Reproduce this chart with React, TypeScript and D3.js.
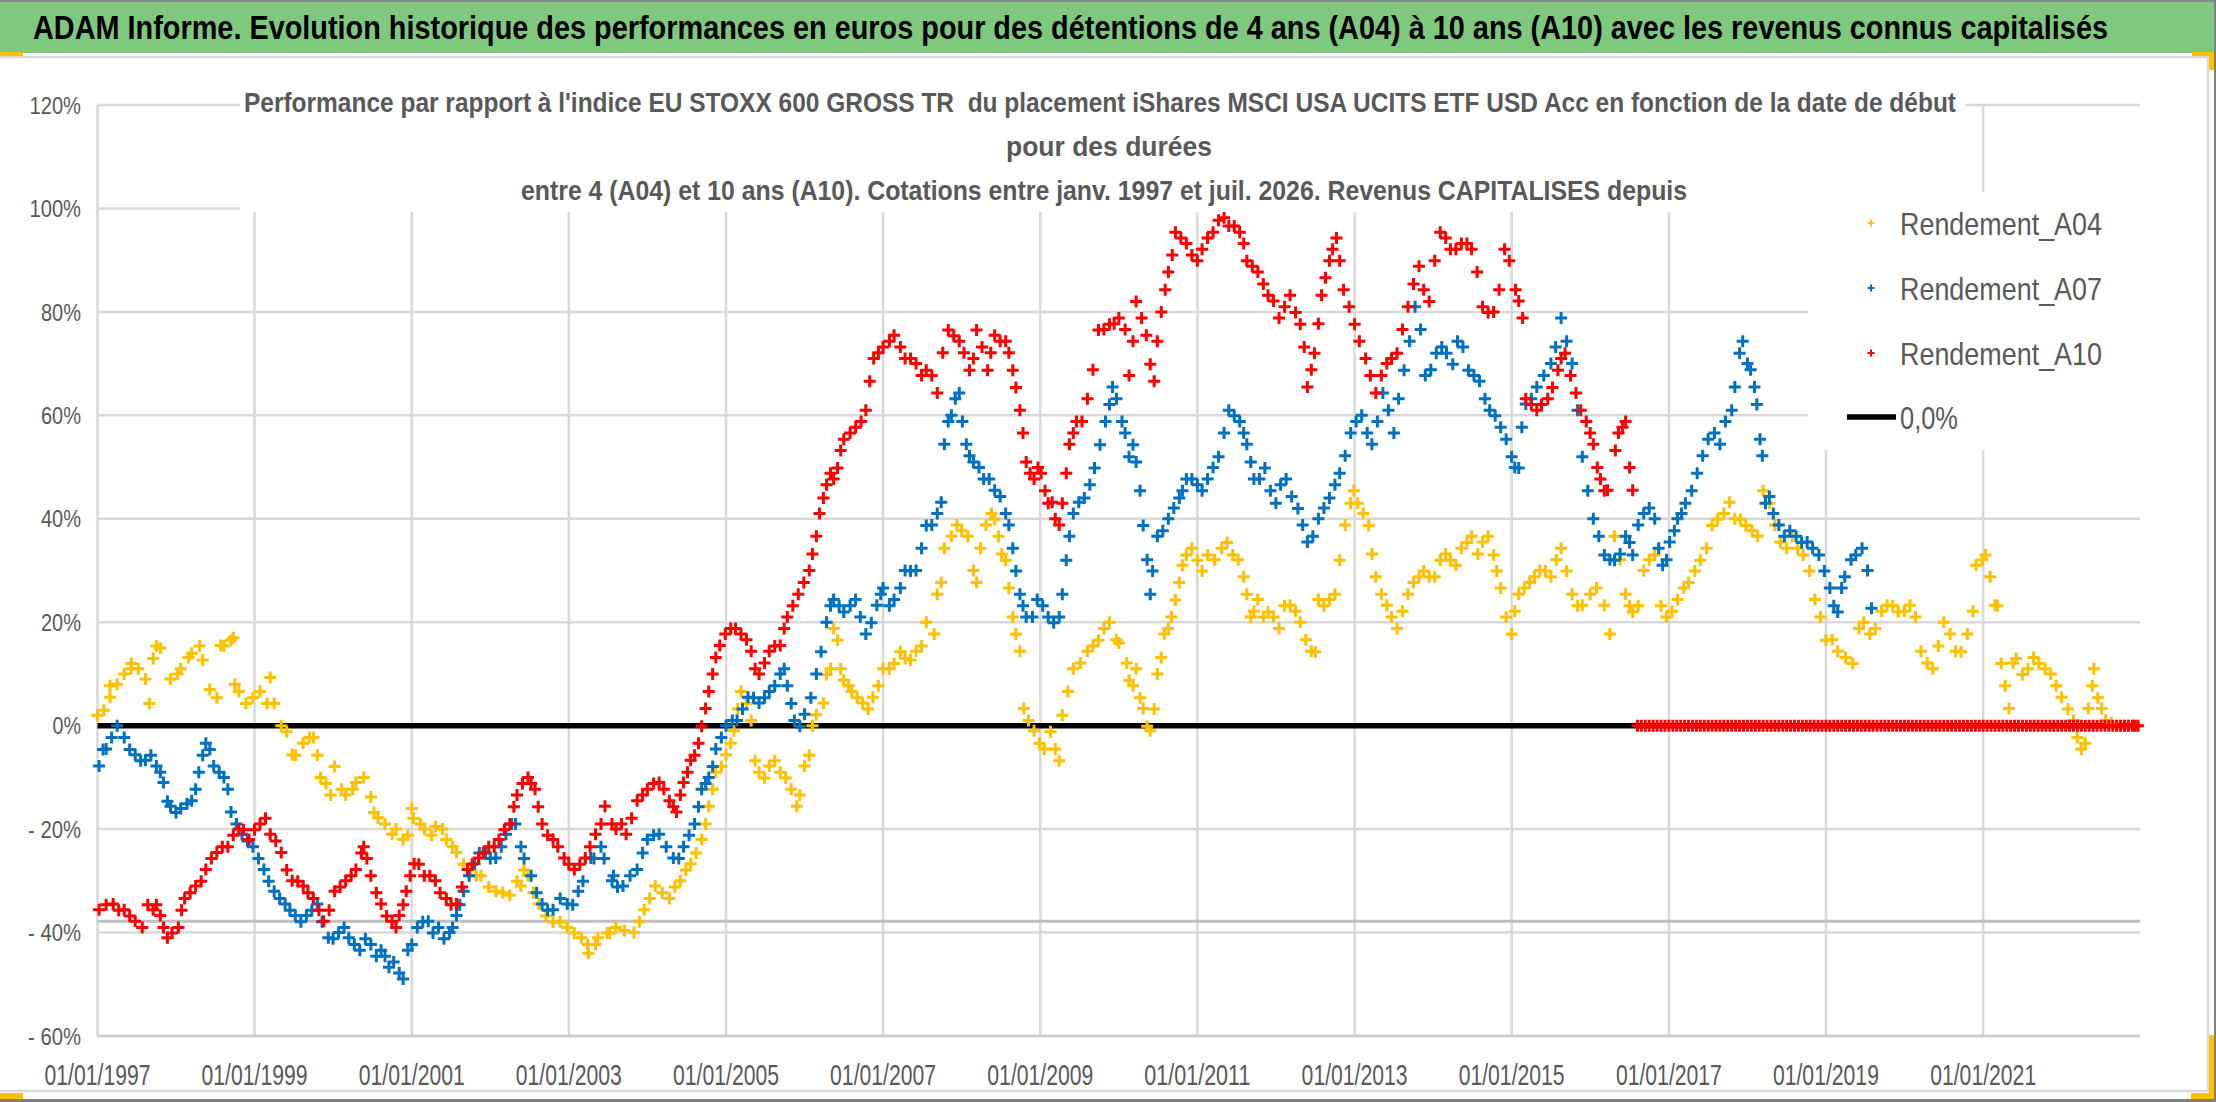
import { useEffect, useRef } from 'react'
import * as d3 from 'd3'

const W = 2216
const H = 1102

const headerTitle =
  'ADAM Informe. Evolution historique des performances en euros pour des détentions de 4 ans (A04) à 10 ans (A10) avec les revenus connus capitalisés'

const chartTitle = [
  "Performance par rapport à l'indice EU STOXX 600 GROSS TR  du placement iShares MSCI USA UCITS ETF USD Acc en fonction de la date de début",
  'pour des durées',
  'entre 4 (A04) et 10 ans (A10). Cotations entre janv. 1997 et juil. 2026. Revenus CAPITALISES depuis',
]

const xTickLabels = [
  '01/01/1997', '01/01/1999', '01/01/2001', '01/01/2003', '01/01/2005', '01/01/2007', '01/01/2009',
  '01/01/2011', '01/01/2013', '01/01/2015', '01/01/2017', '01/01/2019', '01/01/2021',
]
const yTicks = [120, 100, 80, 60, 40, 20, 0, -20, -40, -60]
const refLevel = -37.8

const seriesNames = ['Rendement_A04', 'Rendement_A07', 'Rendement_A10']
const seriesColors = ['#FFC000', '#0070C0', '#FF0000']

// [start date as decimal year, performance %]
const a04: [number, number][] = [
  [1997.0, 2], [1997.08, 3], [1997.16, 5.5], [1997.25, 8], [1997.34, 10], [1997.43, 12], [1997.52, 11],
  [1997.61, 9], [1997.71, 13], [1997.8, 15], [1997.93, 9], [1998.06, 11], [1998.2, 14], [1998.34, 12.7],
  [1998.43, 7], [1998.57, 15.5], [1998.7, 16.5], [1998.75, 8], [1998.89, 4.3], [1999.07, 6.6], [1999.25, 4.3],
  [1999.34, 0], [1999.48, -5.6], [1999.62, -3.4], [1999.75, -2.3], [1999.84, -10], [1999.97, -13.4],
  [2000.16, -13.4], [2000.29, -11], [2000.48, -13.8], [2000.57, -17.8], [2000.75, -21], [2000.89, -22],
  [2001.0, -16], [2001.16, -20], [2001.3, -19.5], [2001.44, -22], [2001.57, -24.5], [2001.75, -27.8],
  [2001.88, -29], [2002.07, -32], [2002.25, -32.8], [2002.39, -31], [2002.48, -29], [2002.62, -34.5],
  [2002.8, -38], [2002.98, -39], [2003.16, -41], [2003.25, -44], [2003.37, -41], [2003.6, -39], [2003.83, -40],
  [2003.96, -35.6], [2004.1, -31], [2004.28, -33.4], [2004.42, -30], [2004.55, -26.7], [2004.69, -22],
  [2004.78, -15.6], [2004.87, -9], [2005.0, -5.6], [2005.1, -1], [2005.19, 6.6], [2005.32, 1], [2005.42, -9],
  [2005.55, -7.8], [2005.69, -9], [2005.83, -12.3], [2005.9, -15.6], [2006.0, -7.8], [2006.1, 0], [2006.24, 4.4],
  [2006.33, 11], [2006.42, 16.5], [2006.5, 8.8], [2006.6, 6.6], [2006.74, 4.4], [2006.87, 5.5], [2007.0, 11],
  [2007.14, 12], [2007.28, 13], [2007.42, 14.4], [2007.55, 20], [2007.65, 17.7], [2007.74, 27.7],
  [2007.87, 36.6], [2008.0, 37.7], [2008.15, 30], [2008.24, 34.3], [2008.38, 41], [2008.47, 36.6],
  [2008.56, 32], [2008.65, 21], [2008.74, 14.4], [2008.79, 3.3], [2008.92, -1], [2009.05, -4.5],
  [2009.19, -4.5], [2009.28, 2], [2009.42, 11], [2009.6, 14.4], [2009.74, 16.5], [2009.88, 20], [2010.0, 16],
  [2010.13, 8.8], [2010.22, 11], [2010.31, 3.3], [2010.4, -1], [2010.49, 10], [2010.58, 17.7], [2010.67, 21],
  [2010.77, 27.7], [2010.86, 33], [2011.0, 32], [2011.13, 33], [2011.31, 34.3], [2011.45, 33], [2011.59, 28.8],
  [2011.68, 21], [2011.77, 24.4], [2011.9, 22], [2012.04, 18.8], [2012.18, 23.3], [2012.31, 20],
  [2012.45, 14.4], [2012.54, 24.4], [2012.68, 24.4], [2012.81, 32], [2012.95, 43], [2013.04, 43],
  [2013.18, 38.7], [2013.27, 28.8], [2013.41, 23.3], [2013.54, 18.8], [2013.68, 25.4], [2013.82, 28.8],
  [2013.95, 28.8], [2014.09, 32], [2014.22, 32], [2014.36, 34.3], [2014.49, 36.6], [2014.63, 35.5],
  [2014.77, 33], [2014.86, 26.6], [2015.0, 17.7], [2015.09, 25.4], [2015.23, 27.7], [2015.36, 30],
  [2015.5, 28.8], [2015.63, 34.3], [2015.77, 25.4], [2015.9, 23.3], [2016.08, 26.6], [2016.18, 23.3],
  [2016.31, 36.6], [2016.45, 25.4], [2016.54, 22], [2016.68, 30], [2016.82, 33], [2016.97, 21],
  [2017.11, 24.4], [2017.25, 27.7], [2017.4, 32], [2017.55, 38.7], [2017.7, 41], [2017.84, 40],
  [2017.98, 38.7], [2018.13, 36.6], [2018.28, 43], [2018.42, 35.5], [2018.57, 36.6], [2018.71, 33],
  [2018.86, 24.4], [2019.0, 16.5], [2019.15, 14.4], [2019.34, 12], [2019.48, 20], [2019.63, 18.8],
  [2019.78, 23.3], [2019.92, 22], [2020.07, 23.3], [2020.21, 14.4], [2020.36, 11], [2020.5, 20],
  [2020.65, 14.4], [2020.8, 17.7], [2020.91, 31], [2021.03, 33], [2021.15, 23.3], [2021.23, 12],
  [2021.33, 3.3], [2021.42, 13], [2021.57, 11], [2021.71, 12], [2021.86, 10], [2022.0, 5.5], [2022.15, 1],
  [2022.25, -4.5], [2022.34, 3.3], [2022.41, 11], [2022.51, 3.3], [2022.63, 0.5], [2022.7, 0], [2022.8, 0],
  [2022.9, 0], [2022.97, 0],
]

// second pass of readings, between the first ones
const a04Extra: [number, number][] = [
  [1997.16, 7.7], [1997.43, 11], [1997.66, 4.3], [1997.75, 15.4], [1998.02, 10], [1998.16, 13.2],
  [1998.3, 15.4], [1998.52, 5.4], [1998.61, 15.4], [1998.73, 17], [1998.8, 6.6], [1998.98, 5.4],
  [1999.16, 4.3], [1999.2, 9.3], [1999.41, -1.2], [1999.52, -5.7], [1999.7, -2.3], [1999.8, -5.7],
  [1999.91, -11.2], [2000.02, -7.9], [2000.11, -12.3], [2000.25, -12.3], [2000.39, -10], [2000.52, -16.8],
  [2000.66, -19], [2000.8, -20], [2000.95, -21.2], [2001.02, -17.9], [2001.11, -19], [2001.25, -21.2],
  [2001.39, -20], [2001.52, -23.4], [2001.66, -26.8], [2001.82, -29], [2001.98, -31.2], [2002.16, -32.3],
  [2002.34, -30.1], [2002.43, -27.9], [2002.55, -32.3], [2002.71, -36.8], [2002.89, -37.9], [2003.07, -40.1],
  [2003.34, -42.3], [2003.52, -40.1], [2003.24, -42.3], [2003.49, -40.1], [2003.71, -39.6], [2003.9, -37.9],
  [2004.03, -33.4], [2004.19, -32.3], [2004.35, -31.2], [2004.49, -27.9], [2004.62, -24.6], [2004.74, -19],
  [2004.83, -12.3], [2004.94, -7.9], [2005.06, -3.4], [2005.15, 3.2], [2005.26, 4.3], [2005.37, -6.8],
  [2005.49, -10.1], [2005.62, -6.8], [2005.76, -10.1], [2005.94, -13.4], [2006.06, -5.7], [2006.15, 2.1],
  [2006.28, 9.9], [2006.37, 18.8], [2006.46, 11], [2006.56, 7.7], [2006.67, 5.4], [2006.81, 3.2],
  [2006.94, 7.7], [2007.08, 11], [2007.22, 14.3], [2007.35, 12.7], [2007.49, 15.4], [2007.69, 25.4],
  [2007.78, 34.3], [2007.94, 38.8], [2008.08, 36.6], [2008.19, 27.7], [2008.31, 38.8], [2008.42, 39.9],
  [2008.51, 33.2], [2008.6, 26.6], [2008.69, 17.7], [2008.85, 1], [2008.99, -3.4], [2009.13, -1.2],
  [2009.24, -6.8], [2009.35, 6.6], [2009.51, 12.1], [2009.67, 15.4], [2009.81, 18.8], [2009.97, 16.6],
  [2010.1, 12.1], [2010.18, 7.7], [2010.27, 5.4], [2010.36, -0.1], [2010.45, 3.2], [2010.54, 13.2],
  [2010.63, 18.8], [2010.72, 24.3], [2010.81, 31], [2010.93, 34.3], [2011.06, 29.9], [2011.22, 32.1],
  [2011.38, 35.4], [2011.52, 32.1], [2011.63, 25.4], [2011.72, 22.1], [2011.84, 21], [2011.97, 21],
  [2012.11, 23.2], [2012.25, 22.1], [2012.38, 16.6], [2012.5, 14.3], [2012.61, 23.2], [2012.75, 25.4],
  [2012.88, 38.8], [2012.99, 45.4], [2013.11, 41], [2013.22, 33.2], [2013.34, 25.4], [2013.47, 21],
  [2013.61, 22.1], [2013.75, 27.7], [2013.88, 29.9], [2014.02, 28.8], [2014.16, 33.2], [2014.29, 31],
  [2014.43, 35.4], [2014.57, 33.2], [2014.7, 36.6], [2014.81, 29.9], [2014.93, 21], [2015.04, 22.1],
  [2015.16, 26.6], [2015.29, 28.8], [2015.43, 29.9], [2015.57, 32.1], [2015.7, 29.9], [2015.84, 23.2],
  [2016.0, 25.4], [2016.25, 17.7], [2016.38, 32.1], [2016.5, 23.2], [2016.61, 23.2], [2016.75, 32.1],
  [2016.9, 23.2], [2017.04, 22.1], [2017.19, 26.6], [2017.33, 29.9], [2017.48, 34.3], [2017.62, 39.9],
  [2017.77, 43.2], [2017.91, 39.9], [2018.06, 37.7], [2018.2, 45.4], [2018.35, 38.8], [2018.5, 34.3],
  [2018.64, 34.3], [2018.79, 29.9], [2018.93, 21], [2019.08, 16.6], [2019.25, 13.2], [2019.42, 18.8],
  [2019.56, 17.7], [2019.71, 22.1], [2019.85, 23.2], [2020.0, 22.1], [2020.14, 21], [2020.29, 12.1],
  [2020.43, 15.4], [2020.58, 17.7], [2020.72, 14.3], [2020.87, 22.1], [2020.99, 32.1], [2021.09, 28.8],
  [2021.18, 23.2], [2021.28, 7.7], [2021.38, 12.1], [2021.5, 9.9], [2021.64, 13.2], [2021.79, 11],
  [2021.93, 7.7], [2022.08, 3.2], [2022.2, -2.3], [2022.3, -3.4], [2022.39, 7.7], [2022.46, 5.4],
  [2022.56, 1], [2022.75, 0], [2022.85, 0], [2022.93, 0],
]

const a07: [number, number][] = [
  [1997.02, -7.8], [1997.11, -4.5], [1997.25, 0], [1997.34, -2.3], [1997.48, -5.6], [1997.61, -6.7],
  [1997.75, -7.8], [1997.84, -11], [1997.93, -15.6], [1998.06, -16], [1998.2, -14.5], [1998.29, -9],
  [1998.38, -3.4], [1998.48, -7.8], [1998.61, -10], [1998.7, -16.7], [1998.84, -21], [1998.98, -23.4],
  [1999.12, -27.8], [1999.25, -32], [1999.39, -34.5], [1999.52, -36.7], [1999.66, -36.7], [1999.8, -34.5],
  [1999.94, -41], [2000.07, -40], [2000.2, -41], [2000.34, -43.4], [2000.48, -42.3], [2000.61, -43.4],
  [2000.71, -46.7], [2000.84, -47.8], [2000.95, -43.4], [2001.07, -39], [2001.21, -37.8], [2001.34, -39],
  [2001.48, -40], [2001.57, -36.7], [2001.66, -32], [2001.8, -26.7], [2001.94, -24.5], [2002.07, -25.6],
  [2002.2, -21], [2002.32, -19], [2002.39, -23.4], [2002.52, -29], [2002.66, -34.5], [2002.8, -35.6],
  [2002.98, -34.5], [2003.12, -32], [2003.28, -25.6], [2003.41, -23.4], [2003.55, -30], [2003.69, -31],
  [2003.87, -27.8], [2004.0, -22], [2004.15, -21], [2004.33, -25.6], [2004.46, -23.4], [2004.6, -19],
  [2004.69, -12.3], [2004.78, -10], [2004.87, -4.5], [2005.0, 0], [2005.14, 1], [2005.28, 5.5],
  [2005.42, 4.4], [2005.55, 6.6], [2005.69, 10], [2005.78, 7.7], [2005.87, 1], [2006.0, 2.2], [2006.15, 10],
  [2006.28, 20], [2006.37, 24.4], [2006.5, 22], [2006.65, 24.4], [2006.78, 17.7], [2006.92, 23.3],
  [2007.0, 26.6], [2007.14, 24.4], [2007.28, 30], [2007.42, 30], [2007.55, 38.7], [2007.69, 41],
  [2007.78, 54.4], [2007.87, 60], [2007.97, 64.3], [2008.06, 54.4], [2008.15, 51], [2008.28, 47.7],
  [2008.42, 45.5], [2008.56, 41], [2008.65, 34.3], [2008.74, 25.4], [2008.82, 21], [2008.96, 24.4],
  [2009.1, 21], [2009.24, 21], [2009.33, 32], [2009.42, 41], [2009.56, 44], [2009.69, 49.8], [2009.83, 58.8],
  [2009.92, 65.5], [2010.04, 58.8], [2010.13, 52], [2010.22, 51], [2010.31, 38.7], [2010.4, 25.4],
  [2010.49, 36.6], [2010.63, 40], [2010.77, 44], [2010.86, 47.7], [2011.0, 46.6], [2011.13, 47.7],
  [2011.27, 52], [2011.4, 61], [2011.54, 58.8], [2011.63, 54.4], [2011.72, 47.7], [2011.86, 49.8],
  [2012.0, 43], [2012.13, 47.7], [2012.28, 42], [2012.4, 35.5], [2012.54, 40], [2012.68, 44], [2012.81, 48.8],
  [2012.95, 56.6], [2013.09, 60], [2013.22, 54.4], [2013.36, 64.3], [2013.5, 56.6], [2013.63, 68.7],
  [2013.77, 81], [2013.9, 67.7], [2014.04, 72], [2014.17, 72], [2014.31, 74.3], [2014.45, 68.7],
  [2014.59, 66.6], [2014.72, 61], [2014.86, 57.7], [2015.0, 52], [2015.09, 49.8], [2015.18, 62.2],
  [2015.32, 65.5], [2015.5, 70], [2015.63, 78.8], [2015.77, 70], [2015.9, 52], [2016.04, 40], [2016.18, 33],
  [2016.31, 32], [2016.45, 36.6], [2016.54, 33], [2016.68, 41], [2016.82, 40], [2016.92, 31], [2017.01, 35.5],
  [2017.11, 40], [2017.21, 43], [2017.36, 48.8], [2017.5, 55.4], [2017.65, 54.4], [2017.8, 61], [2017.9, 72],
  [2018.0, 70], [2018.09, 65.5], [2018.16, 55.4], [2018.23, 43], [2018.33, 41], [2018.47, 36.6],
  [2018.62, 36.6], [2018.76, 35.5], [2018.91, 33], [2019.05, 26.6], [2019.15, 22], [2019.24, 28.8],
  [2019.38, 33], [2019.53, 30], [2019.58, 22.7],
]

const a07Extra: [number, number][] = [
  [1997.07, -4.6], [1997.18, -2.3], [1997.41, -4.6], [1997.55, -6.8], [1997.68, -5.7], [1997.8, -9],
  [1997.89, -14.6], [1998.0, -16.8], [1998.14, -15.1], [1998.25, -12.3], [1998.34, -5.7], [1998.43, -4.6],
  [1998.55, -9], [1998.66, -12.3], [1998.77, -19], [1998.91, -22.3], [1999.05, -25.7], [1999.18, -30.1],
  [1999.32, -33.4], [1999.45, -35.7], [1999.59, -37.9], [1999.73, -35.7], [1999.86, -37.9], [2000.0, -41.2],
  [2000.14, -39], [2000.27, -42.3], [2000.41, -41.2], [2000.55, -44.6], [2000.66, -44.6], [2000.77, -45.7],
  [2000.89, -49], [2001.0, -42.3], [2001.14, -37.9], [2001.27, -40.1], [2001.41, -41.2], [2001.52, -39],
  [2001.61, -34.6], [2001.73, -29], [2001.86, -24.6], [2002.0, -25.7], [2002.14, -23.4], [2002.27, -19],
  [2002.43, -25.7], [2002.59, -32.3], [2002.73, -35.7], [2002.89, -33.4], [2003.05, -34.6], [2003.18, -30.1],
  [2003.32, -25.7], [2003.45, -25.7], [2003.57, -29], [2003.62, -31.2], [2003.78, -29], [2003.94, -24.6],
  [2004.08, -21.2], [2004.24, -23.4], [2004.4, -25.7], [2004.53, -21.2], [2004.65, -15.7], [2004.74, -11.2],
  [2004.83, -7.9], [2004.94, -2.3], [2005.08, 1], [2005.21, 3.2], [2005.35, 5.4], [2005.49, 5.4],
  [2005.62, 7.7], [2005.74, 11], [2005.83, 4.3], [2005.94, -0.1], [2006.08, 5.4], [2006.21, 14.3],
  [2006.33, 23.2], [2006.44, 23.2], [2006.58, 23.2], [2006.71, 21], [2006.85, 19.9], [2006.97, 25.4],
  [2007.08, 23.2], [2007.22, 26.6], [2007.35, 29.9], [2007.49, 34.3], [2007.62, 38.8], [2007.74, 43.2],
  [2007.83, 58.8], [2007.92, 63.2], [2008.01, 58.8], [2008.1, 52.2], [2008.22, 49.9], [2008.35, 47.7],
  [2008.49, 44.3], [2008.6, 38.8], [2008.69, 29.9], [2008.78, 23.2], [2008.9, 21], [2009.03, 23.2],
  [2009.17, 19.9], [2009.28, 25.4], [2009.37, 36.6], [2009.49, 43.2], [2009.63, 46.6], [2009.76, 54.3],
  [2009.88, 62.1], [2009.97, 63.2], [2010.08, 56.6], [2010.18, 54.3], [2010.27, 45.4], [2010.36, 32.1],
  [2010.43, 29.9], [2010.56, 37.7], [2010.7, 42.1], [2010.81, 45.4], [2010.93, 47.7], [2011.06, 45.4],
  [2011.2, 49.9], [2011.34, 56.6], [2011.47, 59.9], [2011.59, 56.6], [2011.68, 51], [2011.79, 47.7],
  [2011.93, 45.4], [2012.06, 46.6], [2012.2, 44.3], [2012.34, 38.8], [2012.47, 36.6], [2012.61, 42.1],
  [2012.75, 46.6], [2012.88, 52.2], [2013.02, 58.8], [2013.16, 56.6], [2013.29, 58.8], [2013.43, 61],
  [2013.56, 63.2], [2013.7, 74.3], [2013.84, 76.6], [2013.97, 68.8], [2014.11, 73.2], [2014.25, 69.9],
  [2014.38, 73.2], [2014.52, 67.7], [2014.66, 63.2], [2014.79, 59.9], [2014.93, 55.4], [2015.04, 49.9],
  [2015.13, 57.7], [2015.25, 63.2], [2015.41, 67.7], [2015.56, 73.2], [2015.7, 74.3], [2015.84, 61],
  [2015.97, 45.4], [2016.11, 36.6], [2016.25, 32.1], [2016.38, 33.2], [2016.5, 35.4], [2016.61, 38.8],
  [2016.75, 42.1], [2016.87, 34.3], [2016.97, 32.1], [2017.07, 37.7], [2017.16, 41], [2017.29, 45.4],
  [2017.43, 52.2], [2017.58, 56.6], [2017.72, 58.8], [2017.84, 65.5], [2017.94, 74.3], [2018.04, 68.8],
  [2018.12, 62.1], [2018.19, 52.2], [2018.28, 44.3], [2018.4, 38.8], [2018.54, 37.7], [2018.69, 35.4],
  [2018.83, 34.3], [2018.98, 29.9], [2019.1, 23.2], [2019.2, 26.6], [2019.32, 32.1], [2019.46, 34.3],
]

const a10: [number, number][] = [
  [1997.02, -35.6], [1997.2, -34.5], [1997.34, -35.6], [1997.48, -37.8], [1997.57, -39], [1997.71, -35.6],
  [1997.8, -36.7], [1997.89, -41], [1998.03, -39], [1998.11, -33.4], [1998.25, -31], [1998.38, -27.8],
  [1998.52, -24.5], [1998.66, -23.4], [1998.8, -20], [1998.93, -22], [1999.07, -19], [1999.2, -21],
  [1999.34, -24.5], [1999.48, -30], [1999.62, -31], [1999.75, -33.4], [1999.88, -37.8], [2000.02, -32],
  [2000.16, -30], [2000.29, -27.8], [2000.39, -23.4], [2000.48, -29], [2000.61, -34.5], [2000.75, -37.8],
  [2000.84, -36.7], [2000.93, -32], [2001.03, -26.7], [2001.16, -29], [2001.3, -30], [2001.44, -33.4],
  [2001.57, -34.5], [2001.71, -27.8], [2001.85, -25.6], [2001.98, -23.4], [2002.11, -22], [2002.25, -19],
  [2002.34, -13.4], [2002.48, -10], [2002.57, -12.3], [2002.66, -19], [2002.8, -22], [2002.94, -25.6],
  [2003.07, -27.8], [2003.21, -25.6], [2003.34, -21], [2003.46, -15.6], [2003.6, -20], [2003.73, -21],
  [2003.87, -14.5], [2004.0, -12.3], [2004.15, -11], [2004.28, -14.5], [2004.37, -16.7], [2004.46, -11],
  [2004.55, -6.7], [2004.65, -3.4], [2004.74, 3.3], [2004.83, 10], [2004.92, 15.5], [2005.06, 18.8],
  [2005.19, 17.7], [2005.32, 14.4], [2005.42, 10], [2005.55, 14.4], [2005.69, 15.5], [2005.78, 21],
  [2005.92, 25.4], [2006.06, 30], [2006.15, 36.6], [2006.24, 44], [2006.33, 48.8], [2006.42, 49.8],
  [2006.5, 55.4], [2006.65, 57.7], [2006.78, 61], [2006.88, 71], [2007.0, 73.2], [2007.14, 75.5],
  [2007.28, 71], [2007.42, 70], [2007.55, 68.7], [2007.69, 64.3], [2007.83, 76.5], [2007.97, 74.3],
  [2008.1, 68.7], [2008.19, 76.5], [2008.33, 68.7], [2008.42, 75.5], [2008.56, 74.3], [2008.65, 68.7],
  [2008.74, 61], [2008.82, 51], [2008.92, 47.7], [2009.01, 48.8], [2009.1, 43], [2009.19, 40], [2009.28, 43],
  [2009.37, 54.4], [2009.46, 58.8], [2009.6, 63.2], [2009.74, 76.5], [2009.88, 77.6], [2010.0, 78.8],
  [2010.13, 67.7], [2010.22, 82], [2010.35, 75.5], [2010.45, 66.6], [2010.54, 80], [2010.63, 87.7],
  [2010.72, 95.4], [2010.86, 93.2], [2011.0, 89.9], [2011.13, 94.3], [2011.27, 97.7], [2011.4, 96.6],
  [2011.54, 95.4], [2011.63, 89.9], [2011.77, 87.7], [2011.9, 83.2], [2012.04, 78.8], [2012.18, 83.2],
  [2012.31, 77.6], [2012.4, 65.5], [2012.49, 72], [2012.58, 83.2], [2012.68, 89.9], [2012.77, 94.3],
  [2012.86, 84.3], [2013.0, 77.6], [2013.14, 71], [2013.27, 64.3], [2013.41, 70], [2013.54, 72],
  [2013.68, 81], [2013.82, 88.8], [2013.95, 82], [2014.09, 95.4], [2014.22, 92.1], [2014.36, 93.2],
  [2014.49, 92.1], [2014.63, 81], [2014.77, 80], [2014.91, 92.1], [2015.05, 84.3], [2015.14, 78.8],
  [2015.18, 63.2], [2015.32, 61], [2015.46, 63.2], [2015.59, 68.7], [2015.68, 72], [2015.82, 64.3],
  [2015.95, 58.8], [2016.04, 54.4], [2016.13, 47.7], [2016.22, 45.5], [2016.36, 56.6], [2016.45, 58.8],
  [2016.54, 45.5],
  [2016.6, 0], [2016.7, 0], [2016.8, 0], [2016.9, 0], [2017.0, 0], [2017.1, 0], [2017.2, 0], [2017.3, 0],
  [2017.4, 0], [2017.5, 0], [2017.6, 0], [2017.7, 0], [2017.8, 0], [2017.9, 0], [2018.0, 0], [2018.1, 0],
  [2018.2, 0], [2018.3, 0], [2018.4, 0], [2018.5, 0], [2018.6, 0], [2018.7, 0], [2018.8, 0], [2018.9, 0],
  [2019.0, 0], [2019.1, 0], [2019.2, 0], [2019.3, 0], [2019.4, 0], [2019.5, 0], [2019.6, 0], [2019.7, 0],
  [2019.8, 0], [2019.9, 0], [2020.0, 0], [2020.1, 0], [2020.2, 0], [2020.3, 0], [2020.4, 0], [2020.5, 0],
  [2020.6, 0], [2020.7, 0], [2020.8, 0], [2020.9, 0], [2021.0, 0], [2021.1, 0], [2021.2, 0], [2021.3, 0],
  [2021.4, 0], [2021.5, 0], [2021.6, 0], [2021.7, 0], [2021.8, 0], [2021.9, 0], [2022.0, 0], [2022.1, 0],
  [2022.2, 0], [2022.3, 0], [2022.4, 0], [2022.5, 0], [2022.6, 0], [2022.7, 0], [2022.8, 0], [2022.9, 0],
  [2022.97, 0],
]

const a10Extra: [number, number][] = [
  [1997.11, -34.6], [1997.27, -35.7], [1997.41, -36.8], [1997.64, -34.6], [1997.75, -34.6], [1997.84, -39],
  [1997.95, -40.1], [1998.07, -35.7], [1998.18, -32.3], [1998.32, -30.1], [1998.45, -25.7], [1998.59, -23.4],
  [1998.73, -21.2], [1998.86, -20.1], [1999.0, -20.1], [1999.14, -17.9], [1999.27, -22.3], [1999.41, -27.9],
  [1999.55, -30.1], [1999.68, -32.3], [1999.82, -35.7], [1999.95, -35.7], [2000.09, -31.2], [2000.23, -29],
  [2000.36, -24.6], [2000.43, -25.7], [2000.55, -32.3], [2000.68, -36.8], [2000.8, -39], [2000.89, -34.6],
  [2000.98, -29], [2001.09, -26.8], [2001.23, -29], [2001.36, -32.3], [2001.5, -34.6], [2001.64, -31.2],
  [2001.77, -26.8], [2001.91, -24.6], [2002.05, -23.4], [2002.18, -20.1], [2002.3, -15.7], [2002.41, -11.2],
  [2002.52, -11.2], [2002.61, -15.7], [2002.73, -21.2], [2002.86, -23.4], [2003.0, -26.8], [2003.14, -26.8],
  [2003.27, -23.4], [2003.41, -19], [2003.55, -19], [2003.67, -19], [2003.8, -17.9], [2003.94, -13.4],
  [2004.08, -11.2], [2004.21, -12.3], [2004.33, -15.7], [2004.42, -13.4], [2004.51, -9], [2004.6, -5.7],
  [2004.69, -0.1], [2004.78, 6.6], [2004.87, 13.2], [2004.99, 17.7], [2005.12, 18.8], [2005.26, 16.6],
  [2005.37, 11], [2005.49, 12.1], [2005.62, 15.4], [2005.74, 18.8], [2005.85, 23.2], [2005.99, 27.7],
  [2006.1, 33.2], [2006.19, 41], [2006.28, 46.6], [2006.37, 47.7], [2006.46, 53.2], [2006.58, 56.6],
  [2006.72, 58.8], [2006.83, 66.6], [2006.94, 72.1], [2007.08, 74.3], [2007.22, 73.2], [2007.35, 71],
  [2007.49, 67.7], [2007.62, 67.7], [2007.76, 72.1], [2007.9, 75.4], [2008.03, 72.1], [2008.15, 71],
  [2008.26, 73.2], [2008.37, 72.1], [2008.49, 74.3], [2008.6, 72.1], [2008.69, 65.4], [2008.78, 56.6],
  [2008.87, 48.8], [2008.97, 49.9], [2009.06, 45.4], [2009.15, 43.2], [2009.24, 38.8], [2009.33, 48.8],
  [2009.42, 56.6], [2009.53, 58.8], [2009.67, 68.8], [2009.81, 76.6], [2009.94, 77.7], [2010.08, 76.6],
  [2010.18, 74.3], [2010.29, 78.8], [2010.4, 69.9], [2010.49, 74.3], [2010.59, 84.3], [2010.68, 91],
  [2010.79, 94.3], [2010.93, 91], [2011.06, 92.1], [2011.2, 95.4], [2011.34, 98.2], [2011.47, 96.6],
  [2011.59, 93.2], [2011.7, 88.8], [2011.84, 85.4], [2011.97, 82.1], [2012.11, 81], [2012.25, 79.9],
  [2012.36, 73.2], [2012.45, 68.8], [2012.54, 77.7], [2012.63, 86.6], [2012.72, 92.1], [2012.81, 89.9],
  [2012.93, 81], [2013.06, 74.3], [2013.2, 67.7], [2013.34, 67.7], [2013.47, 71], [2013.61, 76.6],
  [2013.75, 85.4], [2013.88, 84.3], [2014.02, 89.9], [2014.16, 94.3], [2014.29, 92.1], [2014.43, 93.2],
  [2014.56, 87.7], [2014.7, 79.9], [2014.84, 84.3], [2014.97, 89.9], [2015.09, 82.1], [2015.25, 62.1],
  [2015.38, 62.1], [2015.52, 65.4], [2015.63, 71], [2015.75, 67.7], [2015.88, 61], [2016.0, 56.6],
  [2016.09, 49.9], [2016.18, 45.4], [2016.32, 53.2], [2016.41, 57.7], [2016.5, 49.9],
  [2016.65, 0], [2016.75, 0], [2016.85, 0], [2016.95, 0], [2017.05, 0], [2017.15, 0], [2017.25, 0],
  [2017.35, 0], [2017.45, 0], [2017.55, 0], [2017.65, 0], [2017.75, 0], [2017.85, 0], [2017.95, 0],
  [2018.05, 0], [2018.15, 0], [2018.25, 0], [2018.35, 0], [2018.45, 0], [2018.55, 0], [2018.65, 0],
  [2018.75, 0], [2018.85, 0], [2018.95, 0], [2019.05, 0], [2019.15, 0], [2019.25, 0], [2019.35, 0],
  [2019.45, 0], [2019.55, 0], [2019.65, 0], [2019.75, 0], [2019.85, 0], [2019.95, 0], [2020.05, 0],
  [2020.15, 0], [2020.25, 0], [2020.35, 0], [2020.45, 0], [2020.55, 0], [2020.65, 0], [2020.75, 0],
  [2020.85, 0], [2020.95, 0], [2021.05, 0], [2021.15, 0], [2021.25, 0], [2021.35, 0], [2021.45, 0],
  [2021.55, 0], [2021.65, 0], [2021.75, 0], [2021.85, 0], [2021.95, 0], [2022.05, 0], [2022.15, 0],
  [2022.25, 0], [2022.35, 0], [2022.45, 0], [2022.55, 0], [2022.65, 0], [2022.75, 0], [2022.85, 0],
  [2022.93, 0],
]

const FONT = "'Liberation Sans Narrow', 'Liberation Sans', Arial, sans-serif"
const GREY_TEXT = '#595959'
const GRID = '#d9d9d9'

// decimal year -> UTC date
function toDate(y: number) {
  const yr = Math.floor(y)
  const a = Date.UTC(yr, 0, 1)
  const b = Date.UTC(yr + 1, 0, 1)
  return new Date(a + (y - yr) * (b - a))
}

export default function App() {
  const ref = useRef<SVGSVGElement>(null)

  useEffect(() => {
    document.body.style.margin = '0'
    document.body.style.overflow = 'hidden'
    if (!ref.current) return
    const svg = d3.select(ref.current)
    svg.selectAll('*').remove()

    const left = 97.5, right = 2140, top = 105, bottom = 1036
    const parse = d3.utcParse('%d/%m/%Y')
    const x = d3.scaleUtc()
      .domain([new Date(Date.UTC(1997, 0, 1)), new Date(Date.UTC(2022, 11, 31))])
      .range([left, right])
    const y = d3.scaleLinear().domain([-60, 120]).range([bottom, top])

    svg.append('rect').attr('width', W).attr('height', H).attr('fill', '#fff')

    // header band
    svg.append('rect').attr('x', 0).attr('y', 0).attr('width', W).attr('height', 2).attr('fill', '#8c8c8c')
    svg.append('rect').attr('x', 0).attr('y', 2).attr('width', W).attr('height', 51).attr('fill', '#7fc97f')
    // squeezed horizontally like the narrow original face
    const hdrScale = 0.8
    svg.append('g')
      .attr('transform', `translate(33,39) scale(${hdrScale},1)`)
      .append('text')
      .attr('x', 0).attr('y', 0)
      .attr('font-family', FONT).attr('font-size', 34).attr('font-weight', 'bold')
      .attr('fill', '#000')
      .attr('textLength', 2075 / hdrScale).attr('lengthAdjust', 'spacingAndGlyphs')
      .text(headerTitle)

    // chart frame
    svg.append('rect')
      .attr('x', -2).attr('y', 57).attr('width', 2210).attr('height', 1034)
      .attr('fill', 'none').attr('stroke', '#d9d9d9').attr('stroke-width', 2.5)
    svg.append('rect').attr('x', 0).attr('y', 1099).attr('width', W).attr('height', 3).attr('fill', '#7f7f7f')
    svg.append('rect').attr('x', 2214).attr('y', 0).attr('width', 2).attr('height', H).attr('fill', '#7f7f7f')

    // grid
    const xTicks = xTickLabels.map(s => parse(s) as Date)
    svg.append('g').selectAll('line').data(xTicks).join('line')
      .attr('x1', d => x(d)).attr('x2', d => x(d))
      .attr('y1', top).attr('y2', bottom)
      .attr('stroke', GRID).attr('stroke-width', 2.5)
    svg.append('g').selectAll('line').data(yTicks).join('line')
      .attr('x1', left).attr('x2', right)
      .attr('y1', d => y(d)).attr('y2', d => y(d))
      .attr('stroke', d => (d === -60 ? '#cfcfcf' : GRID)).attr('stroke-width', d => (d === -60 ? 3 : 2.5))
    svg.append('line')
      .attr('x1', left).attr('x2', right).attr('y1', y(refLevel)).attr('y2', y(refLevel))
      .attr('stroke', '#bfbfbf').attr('stroke-width', 3)

    // 0,0% line
    svg.append('line')
      .attr('x1', left).attr('x2', right).attr('y1', y(0)).attr('y2', y(0))
      .attr('stroke', '#000').attr('stroke-width', 5.5)

    // markers
    const plus = (s: number) => `M${-s},0H${s}M0,${-s}V${s}`
    ;[a04.concat(a04Extra), a07.concat(a07Extra), a10.concat(a10Extra)].forEach((data, i) => {
      svg.append('g').selectAll('path').data(data).join('path')
        .attr('transform', d => `translate(${x(toDate(d[0]))},${y(d[1])})`)
        .attr('d', plus(6))
        .attr('fill', 'none')
        .attr('stroke', seriesColors[i]).attr('stroke-width', 3)
    })

    // chart title box
    svg.append('rect').attr('x', 240).attr('y', 86).attr('width', 1726).attr('height', 126).attr('fill', '#fff')
    const titleX = [244, 1006, 521]
    const titleW = [1712, 206, 1166]
    const titleY = [112, 156, 200]
    chartTitle.forEach((t, i) => {
      svg.append('text')
        .attr('x', titleX[i]).attr('y', titleY[i])
        .attr('font-family', FONT).attr('font-size', 28).attr('font-weight', 'bold')
        .attr('fill', GREY_TEXT)
        .attr('textLength', titleW[i]).attr('lengthAdjust', 'spacingAndGlyphs')
        .style('white-space', 'pre')
        .text(t)
    })

    // legend
    svg.append('rect').attr('x', 1808).attr('y', 192).attr('width', 340).attr('height', 258).attr('fill', '#fff')
    const legY = [223, 288, 353, 417]
    seriesNames.forEach((n, i) => {
      svg.append('path')
        .attr('transform', `translate(1871,${legY[i]})`)
        .attr('d', plus(3.5)).attr('fill', 'none')
        .attr('stroke', seriesColors[i]).attr('stroke-width', 2)
      svg.append('text')
        .attr('x', 1900).attr('y', legY[i]).attr('dy', '0.36em')
        .attr('font-family', FONT).attr('font-size', 32)
        .attr('fill', GREY_TEXT)
        .attr('textLength', 202).attr('lengthAdjust', 'spacingAndGlyphs')
        .text(n)
    })
    svg.append('line')
      .attr('x1', 1847).attr('x2', 1896).attr('y1', legY[3]).attr('y2', legY[3])
      .attr('stroke', '#000').attr('stroke-width', 5.5)
    svg.append('text')
      .attr('x', 1900).attr('y', legY[3]).attr('dy', '0.36em')
      .attr('font-family', FONT).attr('font-size', 32)
      .attr('fill', GREY_TEXT)
      .attr('textLength', 58).attr('lengthAdjust', 'spacingAndGlyphs')
      .text('0,0%')

    // y labels
    const fmtY = (v: number) => (v < 0 ? `- ${-v}%` : `${v}%`)
    const charW: Record<string, number> = { '-': 7, ' ': 6, '%': 17 }
    const labelW = (s: string) => s.split('').reduce((a, c) => a + (charW[c] ?? 11.5), 0)
    svg.append('g').selectAll('text').data(yTicks).join('text')
      .attr('x', 81).attr('y', d => y(d)).attr('dy', '0.36em')
      .attr('text-anchor', 'end')
      .attr('font-family', FONT).attr('font-size', 24)
      .attr('fill', GREY_TEXT)
      .attr('textLength', d => labelW(fmtY(d))).attr('lengthAdjust', 'spacingAndGlyphs')
      .text(d => fmtY(d))

    // x labels
    svg.append('g').selectAll('text').data(xTickLabels).join('text')
      .attr('x', d => x(parse(d) as Date)).attr('y', 1085)
      .attr('text-anchor', 'middle')
      .attr('font-family', FONT).attr('font-size', 30)
      .attr('fill', GREY_TEXT)
      .attr('textLength', 106).attr('lengthAdjust', 'spacingAndGlyphs')
      .text(d => d)

    // selection handles
    const handles = [
      [0, 52, 23, 4], [2192, 52, 22, 4], [2209, 52, 5, 18],
      [2209, 1035, 5, 64], [2191, 1093, 23, 6], [0, 1093, 23, 6],
    ]
    svg.append('g').selectAll('rect').data(handles).join('rect')
      .attr('x', d => d[0]).attr('y', d => d[1]).attr('width', d => d[2]).attr('height', d => d[3])
      .attr('fill', '#FFC000')
  }, [])

  return <svg ref={ref} width={W} height={H} style={{ display: 'block' }} />
}
